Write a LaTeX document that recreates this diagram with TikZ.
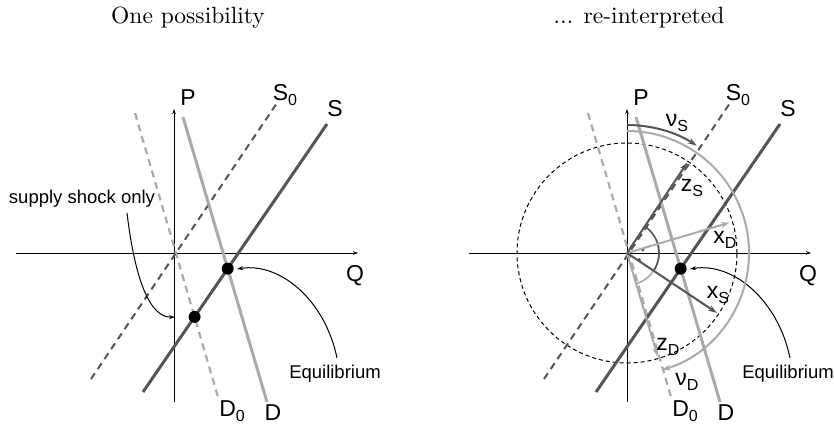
\documentclass[tikz,border=0pt]{standalone}
\usepackage{fontspec}
\newfontfamily\lab{Liberation Sans}
\usetikzlibrary{arrows.meta}
\definecolor{dg}{HTML}{555555}
\definecolor{lg}{HTML}{AAAAAA}
\tikzset{
  axis/.style={line width=1pt, -{Stealth[length=5pt,width=3.5pt]}},
  sline/.style={dg, line width=3pt},
  dline/.style={lg, line width=3pt},
  s0line/.style={dg, line width=2pt, dash pattern=on 7pt off 5pt},
  d0line/.style={lg, line width=2.2pt, dash pattern=on 7pt off 5pt},
  biglab/.style={font=\lab\fontsize{23}{26}\selectfont, inner sep=0pt},
  smalllab/.style={font=\lab\fontsize{18.5}{20}\selectfont, inner sep=0pt},
  title/.style={inner sep=0pt},
  eqdot/.style={circle, fill=black, inner sep=0pt, minimum size=12pt},
  callout/.style={line width=1pt, -{Stealth[length=6pt,width=4pt]}},
  vec/.style={line width=2pt, -{Stealth[length=9pt,width=6pt]}},
  circ/.style={line width=1pt, dash pattern=on 4pt off 3pt},
  angarc/.style={line width=1.6pt},
}
\newcommand{\sbs}[1]{\raisebox{-0.4ex}{\fontsize{16}{16}\selectfont #1}}
\newcommand{\panelcommon}{%
  \coordinate (hl) at (-158,0); \coordinate (hr) at (184,0);
  \coordinate (vb) at (0,-149); \coordinate (vt) at (0,144);
  \coordinate (s0a) at (-83,-126); \coordinate (s0b) at (103,150);
  \coordinate (sa) at (-31,-139); \coordinate (sb) at (153,129);
  \coordinate (da) at (9,136); \coordinate (db) at (93,-149);
  \coordinate (d0a) at (-39,140); \coordinate (d0b) at (44,-144);
  \draw[axis] (hl) -- (hr);
  \draw[axis] (vb) -- (vt);
  \node[biglab] (P) at (14,155) {P};
  \node[biglab] (Q) at (181,-23) {Q};
  \node[biglab] (S0) at (111,158) {S\sbs{0}};
  \node[biglab] (S) at (161,144) {S};
  \node[biglab] (D) at (99,-160) {D};
  \node[biglab] (D0) at (58,-158) {D\sbs{0}};
  \node[smalllab] (eqlab) at (161,-121) {Equilibrium};
}
\begin{document}
\begin{tikzpicture}[x=1pt,y=1pt]
\useasboundingbox (0,0) rectangle (834,426);
\node[title] (t1) at (188,408) {\scalebox{2.35}{One possibility}};
\node[title] (t2) at (639,408) {\scalebox{2.35}{... re-interpreted}};

% ---------- left panel ----------
\begin{scope}[shift={(174,173)}, name prefix=L-]
  \panelcommon
  \draw[d0line] (d0a) -- (d0b);
  \draw[s0line] (s0a) -- (s0b);
  \draw[dline] (da) -- (db);
  \draw[sline] (sa) -- (sb);
  \node[eqdot] (eq) at (intersection of sa--sb and da--db) {};
  \node[eqdot] (sd) at (intersection of sa--sb and d0a--d0b) {};
  \node[smalllab] (shock) at (-92,54) {supply shock only};
  \coordinate (shockend) at (1,-64);
  \coordinate (eqend) at (63,-16);
  \draw[callout] (-47,40) .. controls (-39,-27) and (-24,-65) .. (shockend);
  \draw[callout] (163,-105) .. controls (151,-47) and (106,-9) .. (eqend);
\end{scope}

% ---------- right panel ----------
\begin{scope}[shift={(627,173)}, name prefix=R-]
  \coordinate (O) at (0,0);
  \draw[circ] (O) circle (110);
  \panelcommon
  \draw[d0line] (d0a) -- (d0b);
  \draw[s0line] (s0a) -- (s0b);
  \draw[dline] (da) -- (db);
  \draw[sline] (sa) -- (sb);
  \node[eqdot] (eq) at (intersection of sa--sb and da--db) {};
  \coordinate (eqend) at (63,-16);
  \draw[callout] (163,-105) .. controls (151,-47) and (106,-9) .. (eqend);
  % angle arcs
  \draw[lg, angarc] (16.5:32) arc[start angle=16.5, end angle=-73.5, radius=32];
  \draw[dg, angarc] (56.3:32) arc[start angle=56.3, end angle=-33.7, radius=32];
  \fill[dg] (11.3:16) circle (1.8);
  \fill[dg] (-28.5:14) circle (1.8);
  % vectors
  \coordinate (zS) at (56.3:109);
  \coordinate (xS) at (-33.7:108);
  \coordinate (xD) at (16.5:107);
  \coordinate (zD) at (-73.5:108);
  \draw[vec, lg] (O) -- (xD);
  \draw[vec, lg] (O) -- (zD);
  \draw[vec, dg] (O) -- (zS);
  \draw[vec, dg] (O) -- (xS);
  % rotation arcs
  \coordinate (nuSstart) at (90:128);
  \coordinate (nuDstart) at (90:122);
  \draw[vec, dg] (nuSstart) arc[start angle=90, end angle=57, radius=128];
  \draw[vec, lg] (nuDstart) arc[start angle=90, end angle=-73.5, radius=122];
  % labels
  \node[biglab] (nuS) at (50,130) {ν\sbs{S}};
  \node[biglab] (nuD) at (60,-129) {ν\sbs{D}};
  \node[biglab] (zSl) at (65,65) {z\sbs{S}};
  \node[biglab] (xSl) at (91,-42) {x\sbs{S}};
  \node[biglab] (xDl) at (98,13) {x\sbs{D}};
  \node[biglab] (zDl) at (41,-94) {z\sbs{D}};
\end{scope}
\end{tikzpicture}
\end{document}
